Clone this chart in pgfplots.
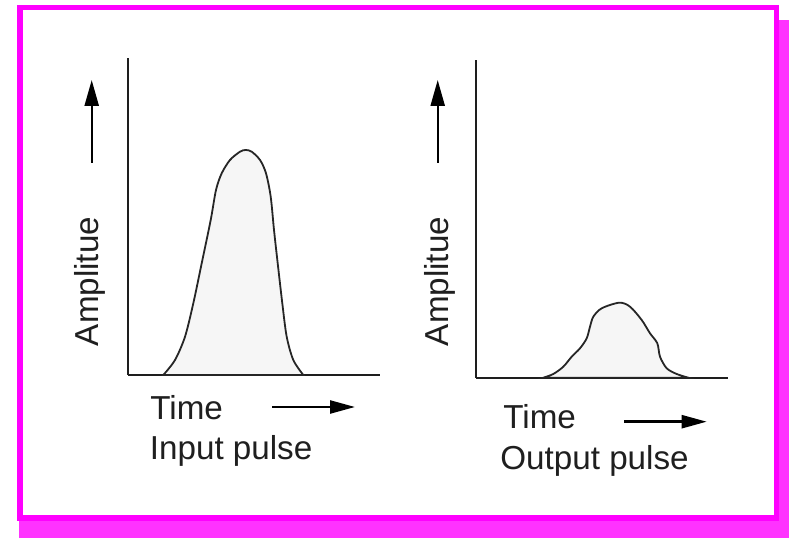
\documentclass[border=0pt]{standalone}
\usepackage{fontspec}
\setmainfont{Liberation Sans}
\usepackage{pgfplots}
\pgfplotsset{compat=1.18}
\usetikzlibrary{arrows.meta}
\definecolor{frameMag}{RGB}{255,0,255}
\definecolor{shadowMag}{RGB}{255,50,255}
\definecolor{pulseFill}{RGB}{246,246,246}
\definecolor{axisGray}{RGB}{30,30,30}
\pgfplotsset{
  pulseaxis/.style={
    scale only axis,
    axis x line*=bottom, axis y line*=left,
    axis line style={axisGray, line width=0.9pt},
    xtick=\empty, ytick=\empty,
    clip=false,
  },
}
\begin{document}
\begin{tikzpicture}
\useasboundingbox (0,0) rectangle (395pt,269.5pt);
\begin{scope}[x=0.5pt,y=-0.5pt,yshift=269.5pt]
  \fill[shadowMag] (19,20) rectangle (789,538);
  \draw[frameMag, line width=2.6pt, fill=white] (20,7.5) rectangle (776.5,518);
  % arrows
  \draw[line width=1.2pt, -{Triangle[length=13pt,width=7pt]}] (91.7,163) -- (91.7,80);
  \draw[line width=1.2pt, -{Triangle[length=13pt,width=7pt]}] (437.7,163) -- (437.7,80);
  \draw[line width=1.2pt, -{Triangle[length=12.5pt,width=6.5pt]}] (272,407) -- (355,407);
  \draw[line width=1.2pt, -{Triangle[length=12.5pt,width=6.5pt]}] (624,421.7) -- (706.7,421.7);
  % texts
  \begin{scope}[every node/.style={inner sep=0pt, font=\fontsize{16.6}{19}\selectfont, text=black!88}]
    \node[anchor=base west] at (150,420) {Time};
    \node[anchor=base west] at (149.5,460) {Input pulse};
    \node[anchor=base west] at (503,428.3) {Time};
    \node[anchor=base west] at (500,469.3) {Output pulse};
    \node[rotate=90, anchor=base] at (98,281.5) {Amplitue};
    \node[rotate=90, anchor=base] at (448.7,281.5) {Amplitue};
  \end{scope}
\end{scope}

\begin{axis}[pulseaxis, at={(63.85pt,82pt)}, anchor=south west,
  width=126.15pt, height=158.65pt,
  xmin=127.7, xmax=380, ymin=0, ymax=317.3]
  \addplot[draw=black!85, line width=0.9pt, fill=pulseFill, smooth] coordinates {
    (163.3,0) (175,15) (185,38.3) (193.3,71.7) (201.7,111.7) (210.7,155)
    (216,185) (221.7,201.7) (230,215) (240,223.3) (245.7,225) (251.7,223.3)
    (260,215) (266,201.7) (270.7,178.3) (274,145) (277.7,111.7) (282.3,71.7)
    (286.7,38.3) (293.3,15) (303.3,0)
  } \closedcycle;
\end{axis}

\begin{axis}[pulseaxis, at={(238pt,80.65pt)}, anchor=south west,
  width=126pt, height=158.85pt,
  xmin=476, xmax=728, ymin=0, ymax=317.7]
  \addplot[draw=black!85, line width=0.9pt, fill=pulseFill, smooth] coordinates {
    (543.3,0) (553.3,3.7) (563.3,11) (571.7,21) (580,29.4) (586.7,39.4)
    (590,51) (593.3,61) (601.7,69.4) (619.3,75) (630,71) (641.7,57.7)
    (650,44.4) (657.3,34.4) (660,21) (666.7,9.4) (676.7,3.7) (688.3,0)
  } \closedcycle;
\end{axis}
\end{tikzpicture}
\end{document}
